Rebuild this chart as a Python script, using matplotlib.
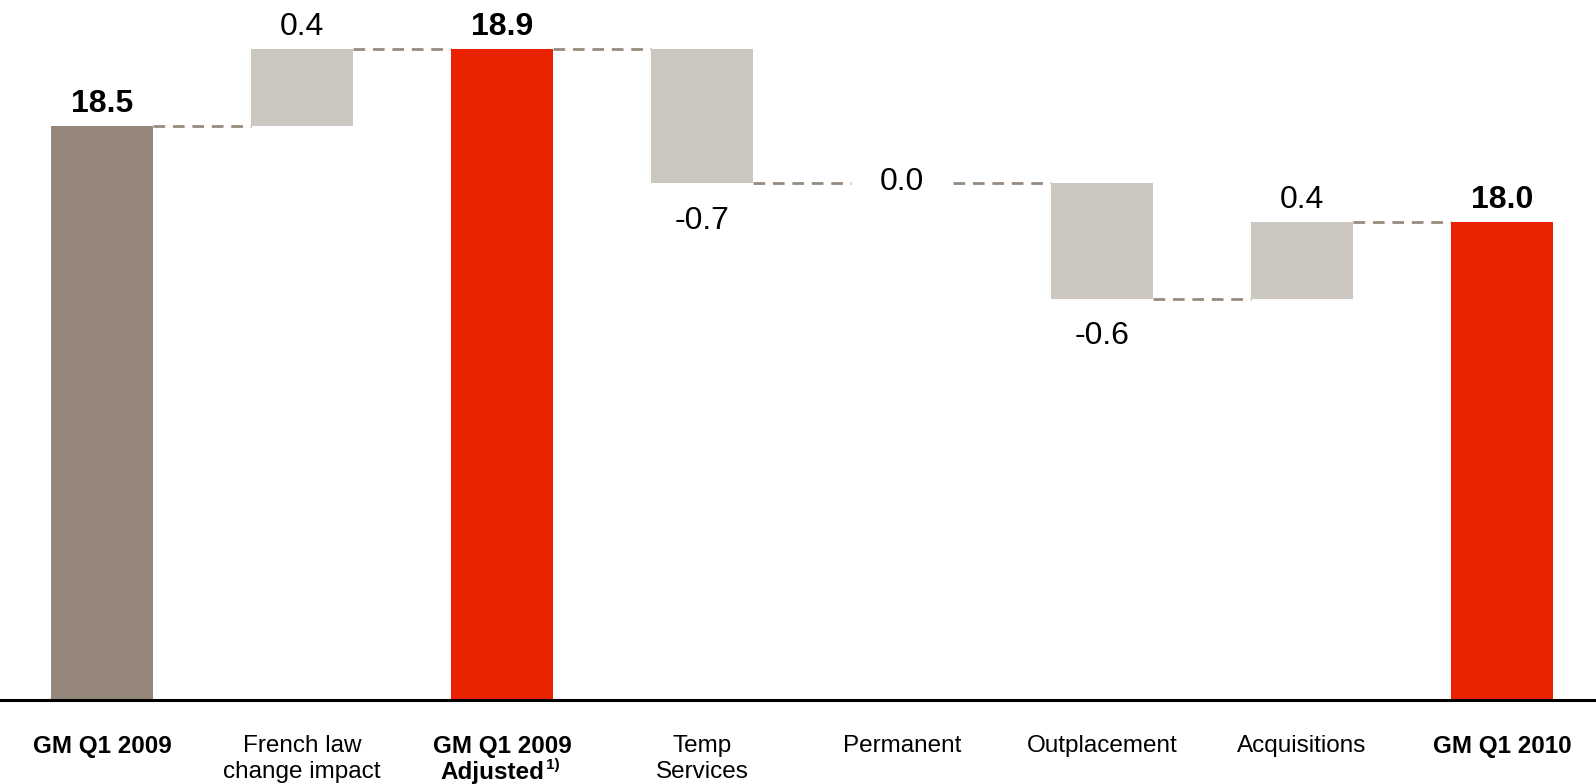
import matplotlib
matplotlib.use("Agg")
import matplotlib.pyplot as plt

plt.rcParams['font.family'] = ['Liberation Sans', 'DejaVu Sans']

categories = ["GM Q1 2009", "French law\nchange impact", "GM Q1 2009\nAdjusted",
              "Temp\nServices", "Permanent", "Outplacement", "Acquisitions", "GM Q1 2010"]
footnote_mark = "1)"
footnote_index = 2
values = [18.5, 0.4, 18.9, -0.7, 0.0, -0.6, 0.4, 18.0]
is_total = [True, False, True, False, False, False, False, True]
value_labels = ["18.5", "0.4", "18.9", "-0.7", "0.0", "-0.6", "0.4", "18.0"]

c_first = '#958779'
c_total = '#EB2200'
c_delta = '#CCC8C1'
c_conn = '#978B7F'

fig = plt.figure(figsize=(15.96, 7.84), dpi=100)
ax = fig.add_axes([0, 1 - 700 / 784, 1, 700 / 784])

width = 0.51
running = 0.0
ends = []
for i, (v, tot) in enumerate(zip(values, is_total)):
    if tot:
        bottom, height = 0, v
        running = v
        color = c_first if i == 0 else c_total
    else:
        bottom, height = running, v
        running = running + v
        color = c_delta
    ax.bar(i, height, bottom=bottom, width=width, color=color, zorder=2)
    ends.append(running)
    top = max(bottom, bottom + height)
    low = min(bottom, bottom + height)
    weight = 'bold' if tot else 'normal'
    if tot or v > 0:
        ax.annotate(value_labels[i], (i, top), xytext=(0, 5), textcoords='offset points',
                    ha='center', va='bottom', fontsize=23, fontweight=weight)
    elif v < 0:
        ax.annotate(value_labels[i], (i, low), xytext=(0, -16), textcoords='offset points',
                    ha='center', va='top', fontsize=23)
    else:
        ax.annotate(value_labels[i], (i, top), xytext=(0, 1), textcoords='offset points',
                    ha='center', va='center', fontsize=23)

for i in range(len(values) - 1):
    ax.plot([i + width / 2, i + 1 - width / 2], [ends[i], ends[i]], color=c_conn,
            lw=2.0, linestyle=(0, (4.2, 2.8)), zorder=1)

ax.set_xlim(-0.51, 7.47)
ax.set_ylim(15.51, 19.155)
ax.set_yticks([])
ax.set_xticks(range(len(categories)))

# the footnoted category: first line as tick label, second line + superscript drawn separately
tick_texts = list(categories)
first_line, second_line = categories[footnote_index].split("\n")
tick_texts[footnote_index] = first_line
ax.set_xticklabels(tick_texts, fontsize=17.5, linespacing=1.25)
for lbl, tot in zip(ax.get_xticklabels(), is_total):
    if tot:
        lbl.set_fontweight('bold')
ax.tick_params(axis='x', length=0, pad=25)

ax.annotate(second_line, xy=(footnote_index, 0), xycoords=('data', 'axes fraction'),
            xytext=(-7, -44.1), textcoords='offset points', ha='center', va='top',
            fontsize=17.5, fontweight='bold', annotation_clip=False)
ax.annotate(footnote_mark, xy=(footnote_index, 0), xycoords=('data', 'axes fraction'),
            xytext=(31.5, -41.5), textcoords='offset points', ha='left', va='top',
            fontsize=11, fontweight='bold', annotation_clip=False)

for s in ['top', 'left', 'right']:
    ax.spines[s].set_visible(False)
ax.spines['bottom'].set_linewidth(2.2)
ax.spines['bottom'].set_color('black')
ax.spines['bottom'].set_zorder(3)

fig.savefig("out.png", dpi=100)
